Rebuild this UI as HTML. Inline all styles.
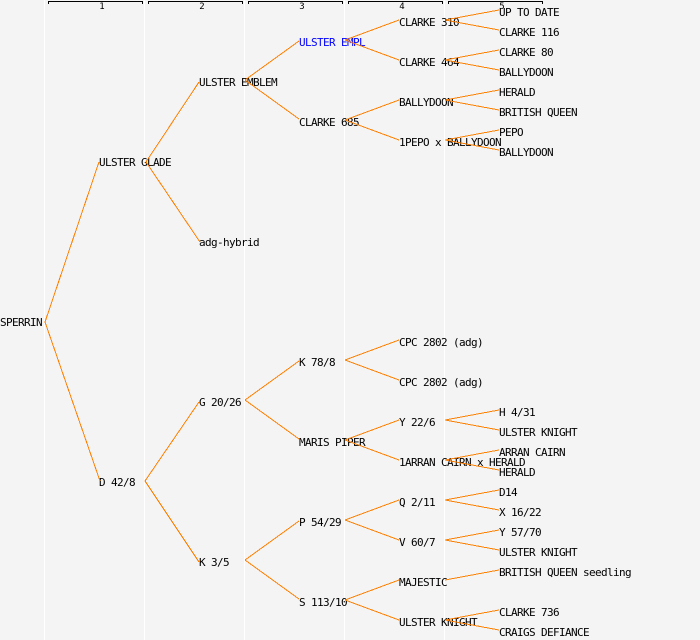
<!DOCTYPE html>
<html><head><meta charset="utf-8">
<style>
html,body{margin:0;padding:0;background:#f4f4f4}
svg{display:block}
text{font-family:"DejaVu Sans Mono","Liberation Mono",monospace;font-size:11px;letter-spacing:-.62px;fill:#000}
.n{font-size:9px;letter-spacing:0;text-anchor:middle}
.e line{stroke:#ff8000;stroke-width:1;shape-rendering:crispEdges}
.s line{stroke:#fff;stroke-width:1;shape-rendering:crispEdges}
.r path{fill:none;stroke:#000;stroke-width:1;shape-rendering:crispEdges}
</style></head><body>
<svg width="700" height="640" viewBox="0 0 700 640" xmlns="http://www.w3.org/2000/svg">
<rect width="700" height="640" fill="#f4f4f4"/>
<g class="s">
<line x1="44.5" y1="0" x2="44.5" y2="640"/><line x1="144.5" y1="0" x2="144.5" y2="640"/><line x1="244.5" y1="0" x2="244.5" y2="640"/><line x1="344.5" y1="0" x2="344.5" y2="640"/><line x1="444.5" y1="0" x2="444.5" y2="640"/>
</g>
<g class="r">
<path d="M48.5 4V1.5H142.5V4"/><path d="M148.5 4V1.5H242.5V4"/><path d="M248.5 4V1.5H342.5V4"/><path d="M348.5 4V1.5H442.5V4"/><path d="M448.5 4V1.5H542.5V4"/>
</g>
<text class="n" x="102" y="9">1</text><text class="n" x="202" y="9">2</text><text class="n" x="302" y="9">3</text><text class="n" x="402" y="9">4</text><text class="n" x="502" y="9">5</text>
<text x="0" y="326">SPERRIN</text>
<text x="99" y="166">ULSTER GLADE</text>
<text x="99" y="486">D 42/8</text>
<text x="199" y="86">ULSTER EMBLEM</text>
<text x="199" y="246">adg-hybrid</text>
<text x="199" y="406">G 20/26</text>
<text x="199" y="566">K 3/5</text>
<text x="299" y="46" style="fill:#0000ff">ULSTER EMPL</text>
<text x="299" y="126">CLARKE 685</text>
<text x="299" y="366">K 78/8</text>
<text x="299" y="446">MARIS PIPER</text>
<text x="299" y="526">P 54/29</text>
<text x="299" y="606">S 113/10</text>
<text x="399" y="26">CLARKE 310</text>
<text x="399" y="66">CLARKE 464</text>
<text x="399" y="106">BALLYDOON</text>
<text x="399" y="146">1PEPO x BALLYDOON</text>
<text x="399" y="346">CPC 2802 (adg)</text>
<text x="399" y="386">CPC 2802 (adg)</text>
<text x="399" y="426">Y 22/6</text>
<text x="399" y="466">1ARRAN CAIRN x HERALD</text>
<text x="399" y="506">Q 2/11</text>
<text x="399" y="546">V 60/7</text>
<text x="399" y="586">MAJESTIC</text>
<text x="399" y="626">ULSTER KNIGHT</text>
<text x="499" y="16">UP TO DATE</text>
<text x="499" y="36">CLARKE 116</text>
<text x="499" y="56">CLARKE 80</text>
<text x="499" y="76">BALLYDOON</text>
<text x="499" y="96">HERALD</text>
<text x="499" y="116">BRITISH QUEEN</text>
<text x="499" y="136">PEPO</text>
<text x="499" y="156">BALLYDOON</text>
<text x="499" y="416">H 4/31</text>
<text x="499" y="436">ULSTER KNIGHT</text>
<text x="499" y="456">ARRAN CAIRN</text>
<text x="499" y="476">HERALD</text>
<text x="499" y="496">D14</text>
<text x="499" y="516">X 16/22</text>
<text x="499" y="536">Y 57/70</text>
<text x="499" y="556">ULSTER KNIGHT</text>
<text x="499" y="576">BRITISH QUEEN seedling</text>
<text x="499" y="616">CLARKE 736</text>
<text x="499" y="636">CRAIGS DEFIANCE</text>
<g class="e">
<line x1="45" y1="322" x2="99" y2="162"/><line x1="45" y1="322" x2="100" y2="481"/>
<line x1="146" y1="162" x2="199" y2="82"/><line x1="146" y1="162" x2="200" y2="242"/>
<line x1="145" y1="481" x2="199" y2="402"/><line x1="145" y1="481" x2="199" y2="562"/>
<line x1="245" y1="80" x2="299" y2="41"/><line x1="245" y1="80" x2="299" y2="119"/>
<line x1="245" y1="400" x2="299" y2="361"/><line x1="245" y1="400" x2="299" y2="439"/>
<line x1="245" y1="560" x2="299" y2="521"/><line x1="245" y1="560" x2="299" y2="599"/>
<line x1="345" y1="40" x2="399" y2="20"/><line x1="345" y1="40" x2="399" y2="60"/>
<line x1="345" y1="120" x2="399" y2="100"/><line x1="345" y1="120" x2="399" y2="140"/>
<line x1="345" y1="360" x2="399" y2="340"/><line x1="345" y1="360" x2="399" y2="380"/>
<line x1="345" y1="440" x2="399" y2="420"/><line x1="345" y1="440" x2="399" y2="460"/>
<line x1="345" y1="520" x2="399" y2="500"/><line x1="345" y1="520" x2="399" y2="540"/>
<line x1="345" y1="600" x2="399" y2="580"/><line x1="345" y1="600" x2="399" y2="620"/>
<line x1="445" y1="20" x2="499" y2="10"/><line x1="445" y1="20" x2="499" y2="30"/>
<line x1="445" y1="60" x2="499" y2="50"/><line x1="445" y1="60" x2="499" y2="70"/>
<line x1="445" y1="100" x2="499" y2="90"/><line x1="445" y1="100" x2="499" y2="110"/>
<line x1="445" y1="140" x2="499" y2="130"/><line x1="445" y1="140" x2="499" y2="150"/>
<line x1="445" y1="420" x2="499" y2="410"/><line x1="445" y1="420" x2="499" y2="430"/>
<line x1="445" y1="460" x2="499" y2="450"/><line x1="445" y1="460" x2="499" y2="470"/>
<line x1="445" y1="500" x2="499" y2="490"/><line x1="445" y1="500" x2="499" y2="510"/>
<line x1="445" y1="540" x2="499" y2="530"/><line x1="445" y1="540" x2="499" y2="550"/>
<line x1="445" y1="580" x2="499" y2="570"/>
<line x1="445" y1="620" x2="499" y2="610"/><line x1="445" y1="620" x2="499" y2="630"/>
</g>
</svg>
</body></html>
